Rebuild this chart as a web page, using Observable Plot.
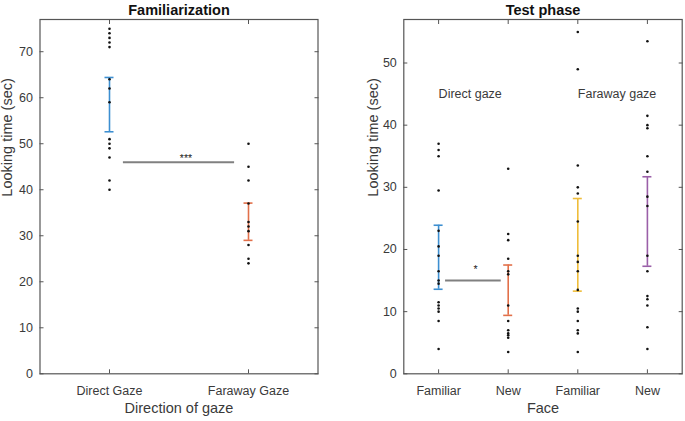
<!DOCTYPE html>
<html><head><meta charset="utf-8">
<script src="https://cdn.jsdelivr.net/npm/d3@7"></script>
<script src="https://cdn.jsdelivr.net/npm/@observablehq/plot@0.6"></script>
<style>
body{margin:0;background:#fff;}
#chart{position:relative;width:685px;height:421px;background:#fff;}
#left{position:absolute;left:0;top:0;}
#right{position:absolute;left:340px;top:0;}
</style></head><body>
<div id="chart"><div id="left"></div><div id="right"></div></div>
<script>
// ---- Familiarization panel data ----
const famTitle = "Familiarization";
const famCategories = ["Direct Gaze", "Faraway Gaze"];
const famDirect = [75, 74, 73, 72, 71, 64, 62, 59, 51, 50, 49, 47, 42, 40];
const famFaraway = [50, 45, 42, 37, 33, 32, 31, 28, 25, 24];
const famMeans = [58.5, 33.05];
const famErrors = [5.9, 4.05];
const famColors = ["#3d8fd1", "#e2704a"];
const famSigY = [46];
const famSigLabel = ["***"];
const famYTicks = [0, 10, 20, 30, 40, 50, 60, 70];

// ---- Test phase panel data ----
const testTitle = "Test phase";
const testCategories = ["Familiar", "New", "Familiar", "New"];
const testGroups = ["Direct gaze", "Faraway gaze"];
const testFamiliarDirect = [37, 36, 35, 29.5, 23, 20.5, 19, 16.5, 15, 14.5, 11.5, 11, 10.5, 10, 8.5, 4];
const testNewDirect = [33, 22.5, 21.5, 18.5, 16.5, 16, 11, 8.5, 7, 6.5, 6.2, 5.8, 3.5];
const testFamiliarFaraway = [55, 49, 33.5, 30, 29, 24.5, 19, 18, 16.5, 13.5, 10.5, 10, 8.5, 7, 6.5, 3.5];
const testNewFaraway = [53.5, 41.5, 40, 39.5, 35, 32.5, 28.5, 27, 19, 16.5, 12.5, 12, 11, 7.5, 4];
const testMeans = [18.75, 13.45, 20.75, 24.5];
const testErrors = [5.15, 4.05, 7.45, 7.2];
const testColors = ["#3d8fd1", "#e2704a", "#efbd3a", "#9a5fa8"];
const testSigY = [15];
const testSigLabel = ["*"];
const testYTicks = [0, 10, 20, 30, 40, 50];

const FONT = "'Liberation Sans', Arial, Helvetica, sans-serif";
const TXT = "#3a3a3a";
const AX = "#555";

function points(series) {
  return series.flatMap((vals, i) => vals.map(v => ({x: i + 1, y: v})));
}
function errorRows(means, errs, colors) {
  return means.map((m, i) => ({x: i + 1, lo: m - errs[i], hi: m + errs[i], c: colors[i]}));
}

function panel({width, marginLeft, marginRight, xDomain, yDomain, yTicks, categories, title, xLabel, yLabelDx, dots, errs, sig, starX, starDy, extraMarks}) {
  const xt = categories.map((_, i) => i + 1);
  return Plot.plot({
    width, height: 421,
    marginLeft, marginRight, marginTop: 19, marginBottom: 47.7,
    style: {fontFamily: FONT, fontSize: "12.5px", color: TXT, background: "#fff", overflow: "visible"},
    x: {domain: xDomain},
    y: {domain: yDomain},
    marks: [
      Plot.frame({stroke: AX, strokeWidth: 1.2}),
      Plot.axisY({anchor: "left", ticks: yTicks, tickSize: -4, tickPadding: 11, label: null, stroke: AX, fill: TXT}),
      Plot.axisY({anchor: "right", ticks: yTicks, tickSize: -4, tickFormat: () => "", label: null, stroke: AX}),
      Plot.axisX({anchor: "bottom", ticks: xt, tickFormat: d => categories[d - 1], tickSize: -4, tickPadding: 16, label: null, stroke: AX, fill: TXT}),
      Plot.axisX({anchor: "top", ticks: xt, tickSize: -4, tickFormat: () => "", label: null, stroke: AX}),
      Plot.text([title], {frameAnchor: "top", dy: -14.5, fontWeight: "bold", fontSize: 14.5, fill: "#111"}),
      Plot.text([xLabel], {frameAnchor: "bottom", dy: 39.5, fontSize: 14.5, fill: TXT}),
      Plot.text(["Looking time (sec)"], {frameAnchor: "left", dx: yLabelDx, rotate: -90, fontSize: 14.5, fill: TXT}),
      ...(extraMarks || []),
      Plot.ruleY(sig, {y: "y", x1: 1.1, x2: 1.9, stroke: "#808080", strokeWidth: 2}),
      Plot.text(sig, {x: starX, y: "y", text: "label", dy: starDy, fontSize: 10.5, fill: "#222"}),
      Plot.ruleX(errs, {x: "x", y1: "lo", y2: "hi", stroke: "c", strokeWidth: 1.6}),
      Plot.ruleY(errs, {y: "lo", x1: "x", x2: "x", insetLeft: -4.5, insetRight: -4.5, stroke: "c", strokeWidth: 1.6}),
      Plot.ruleY(errs, {y: "hi", x1: "x", x2: "x", insetLeft: -4.5, insetRight: -4.5, stroke: "c", strokeWidth: 1.6}),
      Plot.dot(dots, {x: "x", y: "y", r: 1.3, fill: "#111", stroke: "none"})
    ]
  });
}

const left = panel({
  width: 340, marginLeft: 39.5, marginRight: 22.5,
  xDomain: [0.5, 2.5], yDomain: [0, 77], yTicks: famYTicks,
  categories: famCategories, title: famTitle, xLabel: "Direction of gaze", yLabelDx: -32.5,
  dots: points([famDirect, famFaraway]),
  errs: errorRows(famMeans, famErrors, famColors),
  sig: famSigY.map((y, i) => ({y, label: famSigLabel[i]})),
  starX: 1.55, starDy: -4
});
document.getElementById("left").appendChild(left);

const groupLabels = testGroups.map((g, i) => ({x: 2 * i + 1, y: 45, label: g}));
const right = panel({
  width: 345, marginLeft: 63.3, marginRight: 3.3,
  xDomain: [0.5, 4.5], yDomain: [0, 57], yTicks: testYTicks,
  categories: testCategories, title: testTitle, xLabel: "Face", yLabelDx: -30.3,
  dots: points([testFamiliarDirect, testNewDirect, testFamiliarFaraway, testNewFaraway]),
  errs: errorRows(testMeans, testErrors, testColors),
  sig: testSigY.map((y, i) => ({y, label: testSigLabel[i]})),
  starX: 1.53, starDy: -11,
  extraMarks: [Plot.text(groupLabels, {x: "x", y: "y", text: "label", textAnchor: "start", fontSize: 12.5, fill: TXT})]
});
document.getElementById("right").appendChild(right);
</script>
</body></html>
